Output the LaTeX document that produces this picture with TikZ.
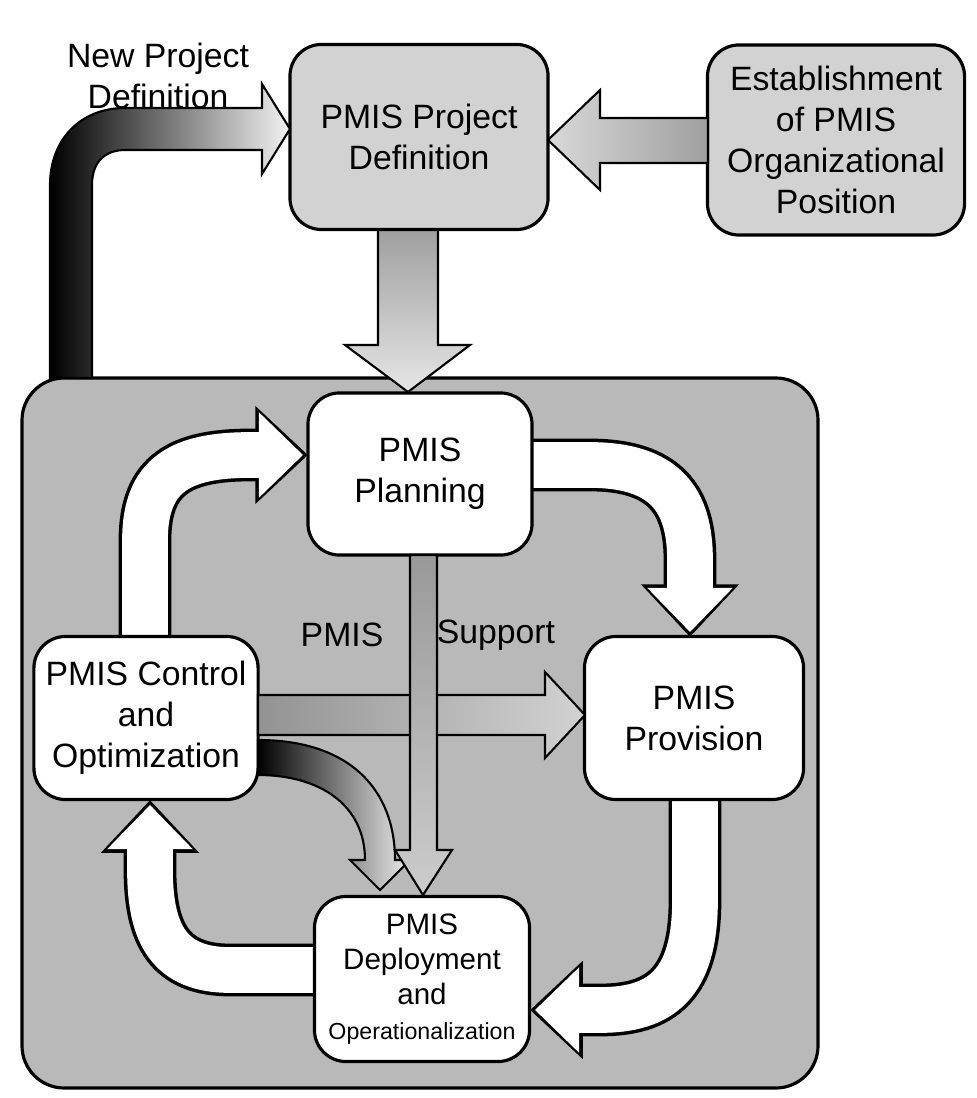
\documentclass[tikz,border=0pt]{standalone}
\usepackage{fontspec}
\setmainfont{Liberation Sans}
\usetikzlibrary{arrows.meta}
\begin{document}
\begin{tikzpicture}[x=0.01cm,y=-0.01cm]
	\tikzset{box/.style={draw=black,line width=0.9pt,rounded corners=9pt,align=center,font=\fontsize{9.6}{11.6}\selectfont},
		lbl/.style={align=center,font=\fontsize{9.6}{11.6}\selectfont},
		wout/.style={draw=black,line width=15pt,-{Triangle[length=15pt,width=27pt]}},
		win/.style={draw=white,line width=13pt,shorten >=1.4pt,-{Triangle[length=12.6pt,width=23.6pt]}},
		fat/.style={draw=black,line width=0.6pt}}
	\useasboundingbox (0,0) rectangle (976,1098);
	\draw [box,fill=gray!55,rounded corners=12pt] (22,378) rectangle (818,1088);
	% white cycle arrows
	\foreach \s in {wout,win}{
		\draw [\s] (145,637) -- (145,540) .. controls (145,475) and (180,455) .. (250,455) -- (308,455);
		\draw [\s] (532,465) -- (590,465) .. controls (665,465) and (690,500) .. (690,560) -- (690,637);
		\draw [\s] (695,800) -- (695,900) .. controls (695,985) and (660,1010) .. (600,1010) -- (530,1010);
		\draw [\s] (315,970) -- (230,970) .. controls (170,970) and (150,935) .. (150,870) -- (150,800);
	}
	\node [box,fill=gray!35,minimum width=258*0.2845pt,minimum height=185*0.2845pt] (def) at (419,137) {PMIS Project\\Definition};
	\node [box,fill=gray!35,minimum width=257*0.2845pt,minimum height=190*0.2845pt] (est) at (836,140) {Establishment\\of PMIS\\Organizational\\Position};
	% gradient arrows
	\shade [fat,left color=gray!30,right color=gray!75] (708,118) -- (600,118) -- (600,90) -- (548,140) -- (600,190) -- (600,163) -- (708,163) -- cycle;
	\shade [fat,top color=gray!75,bottom color=gray!20] (378,230) -- (378,345) -- (345,345) -- (408,392) -- (470,345) -- (438,345) -- (438,230) -- cycle;
	\shade [fat,left color=black,right color=gray!10] (50,378) -- (50,185) .. controls (50,140) and (80,108) .. (125,108) -- (262,108) -- (262,84) -- (290,129) -- (262,174) -- (262,150) -- (125,150) .. controls (105,150) and (92,162) .. (92,185) -- (92,378) -- cycle;
	\node [lbl] (newdef) at (158,76) {New Project\\Definition};
	\node [box,fill=white,minimum width=224*0.2845pt,minimum height=162*0.2845pt] (plan) at (420,474) {PMIS\\Planning};
	\node [box,fill=white,minimum width=223*0.2845pt,minimum height=163*0.2845pt] (ctrl) at (146,718) {PMIS Control\\and\\Optimization};
	\node [box,fill=white,minimum width=219*0.2845pt,minimum height=163*0.2845pt] (prov) at (694,718) {PMIS\\Provision};
	\node [box,fill=white,minimum width=215*0.2845pt,minimum height=165*0.2845pt,font=\fontsize{8.4}{10}\selectfont] (depl) at (422,979) {PMIS\\Deployment\\and\\{\fontsize{6.6}{9}\selectfont Operationalization}};
	\shade [fat,left color=gray!85,right color=gray!35] (258,695) -- (545,695) -- (545,672) -- (585,715) -- (545,758) -- (545,735) -- (258,735) -- cycle;
	\shade [fat,left color=black,right color=gray!15] (258,740) .. controls (350,740) and (395,790) .. (395,860) -- (410,860) -- (380,890) -- (350,860) -- (365,860) .. controls (365,805) and (320,775) .. (258,775) -- cycle;
	\shade [fat,top color=gray!80,bottom color=gray!40] (410,555) -- (410,850) -- (395,850) -- (423,895) -- (452,850) -- (437,850) -- (437,555) -- cycle;
	\node [lbl] (l1) at (342,635) {PMIS};
	\node [lbl] (l2) at (496,635) {Support};
\end{tikzpicture}
\end{document}
